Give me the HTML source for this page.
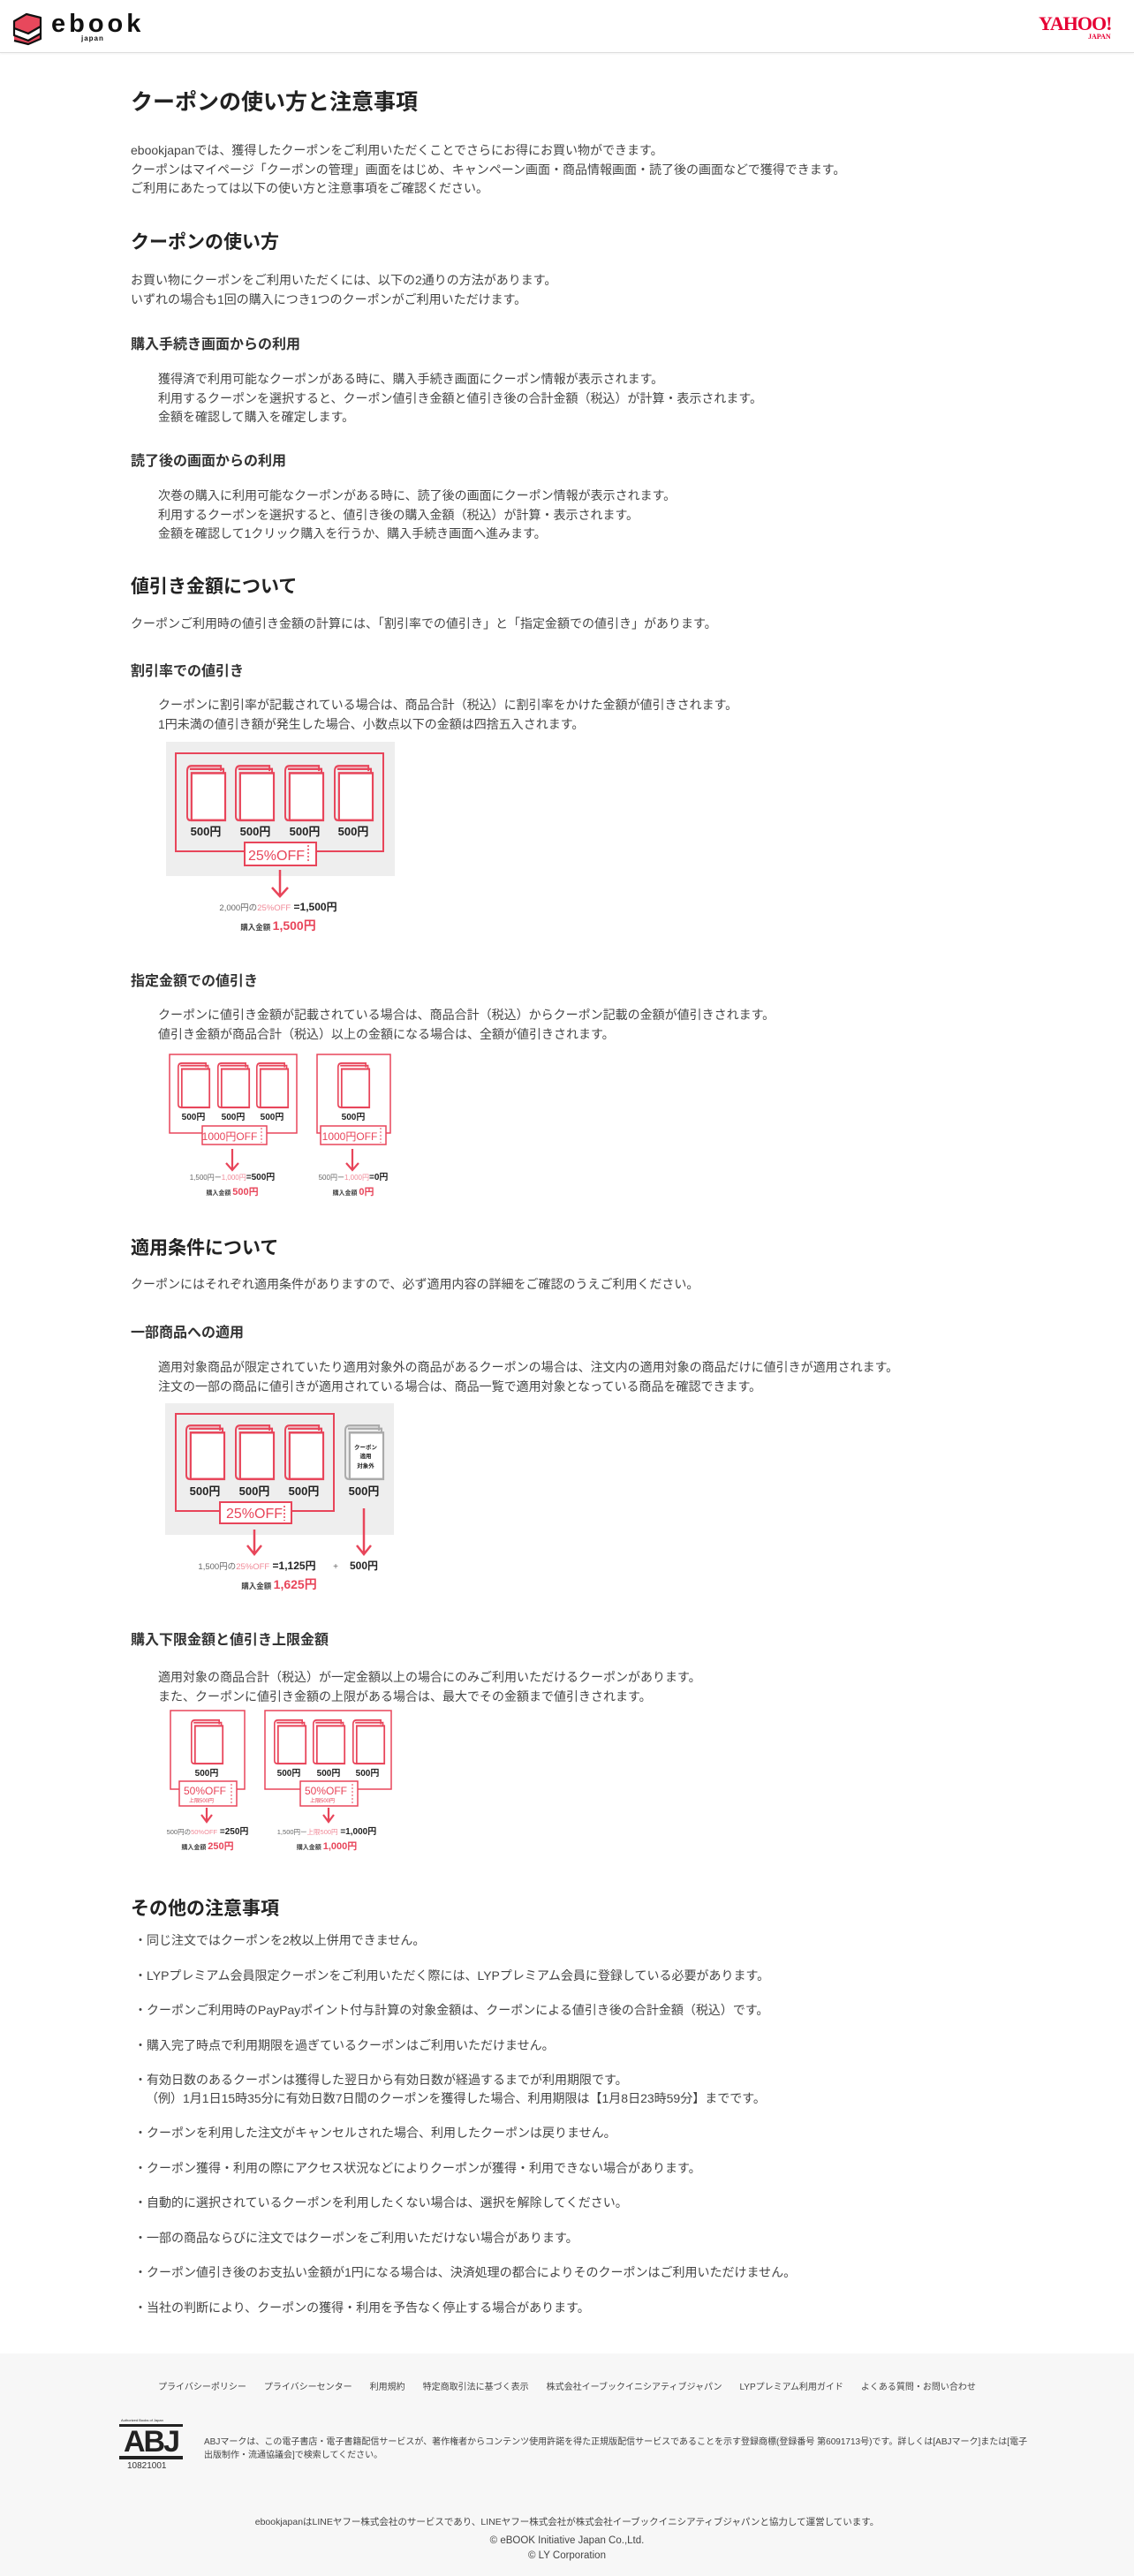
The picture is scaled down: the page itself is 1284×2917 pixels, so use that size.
<!DOCTYPE html>
<html><head><meta charset="utf-8">
<style>
*{margin:0;padding:0;box-sizing:border-box}
body{width:1284px;height:2917px;position:relative;background:#fff;font-family:"Liberation Sans","Noto Sans CJK JP",sans-serif;color:#333;overflow:hidden}
.a{position:absolute;white-space:nowrap}
.p{position:absolute;white-space:nowrap;font-size:14px;line-height:21.5px;color:#444}
.h1{font-size:25px;font-weight:bold;color:#222}
.h2{font-size:21px;font-weight:bold;color:#222}
.h3{font-size:16px;font-weight:bold;color:#333}
svg text{font-family:"Liberation Sans","Noto Sans CJK JP",sans-serif}
</style></head><body>
<!-- header -->
<div class="a" style="left:0;top:0;width:1284px;height:60px;border-bottom:1px solid #ddd;box-shadow:0 1px 2px rgba(0,0,0,.06)"></div>
<svg class="a" style="left:12px;top:10px" width="42" height="42" viewBox="0 0 42 42">
<path d="M4 14 L18 6 L34 10 L34 20 L20 28 L4 22 Z" fill="#e8485c" stroke="#111" stroke-width="2.2" stroke-linejoin="round"/>
<path d="M4 22 L20 28 L34 20 L34 28 L20 36 L4 30 Z" fill="#fff" stroke="#111" stroke-width="2.2" stroke-linejoin="round"/>
<path d="M4 30 L20 36 L34 28 L34 34 L20 40 L4 36" fill="#e8485c" stroke="#111" stroke-width="2.2" stroke-linejoin="round"/>
</svg>
<div class="a" style="left:58px;top:12px;font-size:29px;font-weight:bold;letter-spacing:4px;color:#111;line-height:30px">ebook</div>
<div class="a" style="left:92px;top:39px;font-size:8px;font-weight:bold;letter-spacing:1px;color:#111">japan</div>
<div class="a" style="left:1176px;top:15px;font-family:'Liberation Serif',serif;font-size:22px;font-weight:bold;color:#e60033;letter-spacing:-1px;line-height:24px">YAHOO!</div>
<div class="a" style="left:1232px;top:37px;font-family:'Liberation Serif',serif;font-size:8px;font-weight:bold;color:#e60033">JAPAN</div>

<div class="a h1" style="left:148px;top:96px">クーポンの使い方と注意事項</div>
<div class="p" style="left:148px;top:160px">ebookjapanでは、獲得したクーポンをご利用いただくことでさらにお得にお買い物ができます。<br>クーポンはマイページ「クーポンの管理」画面をはじめ、キャンペーン画面・商品情報画面・読了後の画面などで獲得できます。<br>ご利用にあたっては以下の使い方と注意事項をご確認ください。</div>

<div class="a h2" style="left:148px;top:258px">クーポンの使い方</div>
<div class="p" style="left:148px;top:307px">お買い物にクーポンをご利用いただくには、以下の2通りの方法があります。<br>いずれの場合も1回の購入につき1つのクーポンがご利用いただけます。</div>
<div class="a h3" style="left:148px;top:376px">購入手続き画面からの利用</div>
<div class="p" style="left:179px;top:419px">獲得済で利用可能なクーポンがある時に、購入手続き画面にクーポン情報が表示されます。<br>利用するクーポンを選択すると、クーポン値引き金額と値引き後の合計金額（税込）が計算・表示されます。<br>金額を確認して購入を確定します。</div>
<div class="a h3" style="left:148px;top:508px">読了後の画面からの利用</div>
<div class="p" style="left:179px;top:551px">次巻の購入に利用可能なクーポンがある時に、読了後の画面にクーポン情報が表示されます。<br>利用するクーポンを選択すると、値引き後の購入金額（税込）が計算・表示されます。<br>金額を確認して1クリック購入を行うか、購入手続き画面へ進みます。</div>

<div class="a h2" style="left:148px;top:648px">値引き金額について</div>
<div class="p" style="left:148px;top:696px">クーポンご利用時の値引き金額の計算には、「割引率での値引き」と「指定金額での値引き」があります。</div>
<div class="a h3" style="left:148px;top:746px">割引率での値引き</div>
<div class="p" style="left:179px;top:788px">クーポンに割引率が記載されている場合は、商品合計（税込）に割引率をかけた金額が値引きされます。<br>1円未満の値引き額が発生した場合、小数点以下の金額は四捨五入されます。</div>

<div class="a h3" style="left:148px;top:1097px">指定金額での値引き</div>
<div class="p" style="left:179px;top:1139px">クーポンに値引き金額が記載されている場合は、商品合計（税込）からクーポン記載の金額が値引きされます。<br>値引き金額が商品合計（税込）以上の金額になる場合は、全額が値引きされます。</div>

<div class="a h2" style="left:148px;top:1397px">適用条件について</div>
<div class="p" style="left:148px;top:1444px">クーポンにはそれぞれ適用条件がありますので、必ず適用内容の詳細をご確認のうえご利用ください。</div>
<div class="a h3" style="left:148px;top:1495px">一部商品への適用</div>
<div class="p" style="left:179px;top:1538px">適用対象商品が限定されていたり適用対象外の商品があるクーポンの場合は、注文内の適用対象の商品だけに値引きが適用されます。<br>注文の一部の商品に値引きが適用されている場合は、商品一覧で適用対象となっている商品を確認できます。</div>
<div class="a h3" style="left:148px;top:1843px">購入下限金額と値引き上限金額</div>
<div class="p" style="left:179px;top:1889px">適用対象の商品合計（税込）が一定金額以上の場合にのみご利用いただけるクーポンがあります。<br>また、クーポンに値引き金額の上限がある場合は、最大でその金額まで値引きされます。</div>

<div class="a h2" style="left:148px;top:2145px">その他の注意事項</div>
<div class="p" style="left:152px;top:2178px;line-height:39.6px">・同じ注文ではクーポンを2枚以上併用できません。<br>・LYPプレミアム会員限定クーポンをご利用いただく際には、LYPプレミアム会員に登録している必要があります。<br>・クーポンご利用時のPayPayポイント付与計算の対象金額は、クーポンによる値引き後の合計金額（税込）です。<br>・購入完了時点で利用期限を過ぎているクーポンはご利用いただけません。<br>・有効日数のあるクーポンは獲得した翌日から有効日数が経過するまでが利用期限です。</div>
<div class="p" style="left:165px;top:2366px">（例）1月1日15時35分に有効日数7日間のクーポンを獲得した場合、利用期限は【1月8日23時59分】までです。</div>
<div class="p" style="left:152px;top:2396px;line-height:39.6px">・クーポンを利用した注文がキャンセルされた場合、利用したクーポンは戻りません。<br>・クーポン獲得・利用の際にアクセス状況などによりクーポンが獲得・利用できない場合があります。<br>・自動的に選択されているクーポンを利用したくない場合は、選択を解除してください。<br>・一部の商品ならびに注文ではクーポンをご利用いただけない場合があります。<br>・クーポン値引き後のお支払い金額が1円になる場合は、決済処理の都合によりそのクーポンはご利用いただけません。<br>・当社の判断により、クーポンの獲得・利用を予告なく停止する場合があります。</div>

<!-- figures -->
<svg class="a" style="left:0;top:0" width="1284" height="2120" viewBox="0 0 1284 2120">
<defs>
<symbol id="bk" viewBox="0 0 46 56" overflow="visible" preserveAspectRatio="none">
<path d="M5 55 Q1 55 1 51 L1 7 Q1 2 6 2 L40 2 L40 7" fill="none" stroke="currentColor" stroke-width="2"/>
<path d="M4 5 L43 5 L43 9" fill="none" stroke="currentColor" stroke-width="2"/>
<rect x="6" y="9" width="39" height="46" fill="#fff" stroke="currentColor" stroke-width="2.2"/>
</symbol>
</defs>
<g color="#e8455a" fill="none" stroke="#e8455a">
<!-- fig1 -->
<rect x="188" y="840" width="259" height="152" fill="#eee" stroke="none"/>
<rect x="199" y="853" width="235" height="111" stroke-width="2"/>
<use href="#bk" x="211" y="865" width="45" height="65"/><use href="#bk" x="266" y="865" width="45" height="65"/><use href="#bk" x="322" y="865" width="45" height="65"/><use href="#bk" x="378" y="865" width="45" height="65"/>
<rect x="277" y="954" width="81" height="26" fill="#fff" stroke-width="2"/>
<line x1="349" y1="957" x2="349" y2="977" stroke-dasharray="2 2" stroke-width="1.5"/>
<path d="M317 985 V1014 M308 1005 L317 1015 L326 1005" stroke-width="2.5"/>
<!-- fig2 -->
<rect x="192" y="1194" width="144" height="89" stroke-width="1.5"/>
<use href="#bk" x="201" y="1202" width="37" height="53"/><use href="#bk" x="246" y="1202" width="37" height="53"/><use href="#bk" x="290" y="1202" width="37" height="53"/>
<rect x="229" y="1275" width="73" height="21" fill="#fff" stroke-width="1.5"/>
<line x1="296" y1="1277" x2="296" y2="1294" stroke-dasharray="2 2"/>
<path d="M263 1301 V1325 M256 1317 L263 1325 L270 1317" stroke-width="2.2"/>
<rect x="359" y="1194" width="83" height="89" stroke-width="1.5"/>
<use href="#bk" x="382" y="1202" width="37" height="53"/>
<rect x="363" y="1275" width="74" height="21" fill="#fff" stroke-width="1.5"/>
<line x1="431" y1="1277" x2="431" y2="1294" stroke-dasharray="2 2"/>
<path d="M399 1301 V1325 M392 1317 L399 1325 L406 1317" stroke-width="2.2"/>
<!-- fig3 -->
<rect x="187" y="1589" width="259" height="149" fill="#eee" stroke="none"/>
<rect x="199" y="1601" width="179" height="110" stroke-width="2"/>
<use href="#bk" x="210" y="1612" width="45" height="64"/><use href="#bk" x="266" y="1612" width="45" height="64"/><use href="#bk" x="322" y="1612" width="45" height="64"/>
<g color="#aaa"><use href="#bk" x="390" y="1612" width="45" height="64"/></g>
<rect x="249" y="1701" width="81" height="24" fill="#fff" stroke-width="2"/>
<line x1="322" y1="1705" x2="322" y2="1722" stroke-dasharray="2 2" stroke-width="1.5"/>
<path d="M288 1732 V1759 M280 1750 L288 1760 L296 1750" stroke-width="2.5"/>
<path d="M412 1708 V1759 M404 1750 L412 1760 L420 1750" stroke-width="2.5"/>
<!-- fig4 -->
<rect x="193" y="1937" width="84" height="89" stroke-width="1.5"/>
<use href="#bk" x="216" y="1946" width="37" height="52"/>
<rect x="203" y="2017" width="65" height="28" fill="#fff" stroke-width="1.5"/>
<line x1="262" y1="2020" x2="262" y2="2043" stroke-dasharray="2 2"/>
<path d="M234 2047 V2062 M228 2055 L234 2063 L240 2055" stroke-width="2.2"/>
<rect x="300" y="1937" width="143" height="89" stroke-width="1.5"/>
<use href="#bk" x="310" y="1946" width="37" height="52"/><use href="#bk" x="354" y="1946" width="37" height="52"/><use href="#bk" x="399" y="1946" width="37" height="52"/>
<rect x="340" y="2017" width="65" height="28" fill="#fff" stroke-width="1.5"/>
<line x1="399" y1="2020" x2="399" y2="2043" stroke-dasharray="2 2"/>
<path d="M372 2047 V2062 M366 2055 L372 2063 L378 2055" stroke-width="2.2"/>
</g>
<g font-weight="bold" fill="#222" text-anchor="middle">
<g font-size="13"><text x="233" y="946">500円</text><text x="289" y="946">500円</text><text x="345" y="946">500円</text><text x="400" y="946">500円</text></g>
<text x="313" y="974" font-size="16" font-weight="normal" fill="#e8455a">25%OFF</text>
<text x="315" y="1031" font-size="12"><tspan font-size="9.5" font-weight="normal" fill="#666">2,000円の</tspan><tspan font-size="9.5" font-weight="normal" fill="#f08a98">25%OFF</tspan> =1,500円</text>
<text x="315" y="1053"><tspan font-size="8.5" fill="#444">購入金額 </tspan><tspan font-size="14" fill="#e8455a">1,500円</tspan></text>
<g font-size="10"><text x="219" y="1268">500円</text><text x="264" y="1268">500円</text><text x="308" y="1268">500円</text><text x="400" y="1268">500円</text></g>
<text x="260" y="1291" font-size="12" font-weight="normal" fill="#e8455a">1000円OFF</text>
<text x="396" y="1291" font-size="12" font-weight="normal" fill="#e8455a">1000円OFF</text>
<text x="263" y="1336" font-size="10"><tspan font-size="8" font-weight="normal" fill="#666">1,500円ー</tspan><tspan font-size="8" font-weight="normal" fill="#f08a98">1,000円</tspan>=500円</text>
<text x="263" y="1353"><tspan font-size="7" fill="#444">購入金額 </tspan><tspan font-size="11" fill="#e8455a">500円</tspan></text>
<text x="400" y="1336" font-size="10"><tspan font-size="8" font-weight="normal" fill="#666">500円ー</tspan><tspan font-size="8" font-weight="normal" fill="#f08a98">1,000円</tspan>=0円</text>
<text x="400" y="1353"><tspan font-size="7" fill="#444">購入金額 </tspan><tspan font-size="11" fill="#e8455a">0円</tspan></text>
<g font-size="13"><text x="232" y="1693">500円</text><text x="288" y="1693">500円</text><text x="344" y="1693">500円</text><text x="412" y="1693">500円</text></g>
<text x="414" y="1641" font-size="6.5">クーポン</text><text x="414" y="1651" font-size="6.5">適用</text><text x="414" y="1662" font-size="6.5">対象外</text>
<text x="288" y="1719" font-size="16" font-weight="normal" fill="#e8455a">25%OFF</text>
<text x="291" y="1777" font-size="12"><tspan font-size="9.5" font-weight="normal" fill="#666">1,500円の</tspan><tspan font-size="9.5" font-weight="normal" fill="#f08a98">25%OFF</tspan> =1,125円</text>
<text x="380" y="1777" font-size="10" fill="#666" font-weight="normal">+</text>
<text x="412" y="1777" font-size="12">500円</text>
<text x="316" y="1799"><tspan font-size="8.5" fill="#444">購入金額 </tspan><tspan font-size="14" fill="#e8455a">1,625円</tspan></text>
<g font-size="10"><text x="234" y="2011">500円</text><text x="327" y="2011">500円</text><text x="372" y="2011">500円</text><text x="416" y="2011">500円</text></g>
<g font-weight="normal" fill="#e8455a"><text x="232" y="2032" font-size="12">50%OFF</text><text x="228" y="2041" font-size="6">上限500円</text>
<text x="369" y="2032" font-size="12">50%OFF</text><text x="365" y="2041" font-size="6">上限500円</text></g>
<text x="235" y="2077" font-size="10"><tspan font-size="7.5" font-weight="normal" fill="#666">500円の</tspan><tspan font-size="7.5" font-weight="normal" fill="#f08a98">50%OFF</tspan> =250円</text>
<text x="235" y="2094"><tspan font-size="7" fill="#444">購入金額 </tspan><tspan font-size="11" fill="#e8455a">250円</tspan></text>
<text x="370" y="2077" font-size="10"><tspan font-size="7.5" font-weight="normal" fill="#666">1,500円ー</tspan><tspan font-size="7.5" font-weight="normal" fill="#f08a98">上限500円</tspan> =1,000円</text>
<text x="370" y="2094"><tspan font-size="7" fill="#444">購入金額 </tspan><tspan font-size="11" fill="#e8455a">1,000円</tspan></text>
</g>
</svg>

<!-- footer -->
<div class="a" style="left:0;top:2665px;width:1284px;height:252px;background:#f7f7f7"></div>
<div class="a" style="left:0;top:2694px;width:1284px;text-align:center;font-size:10px;color:#444">プライバシーポリシー　　プライバシーセンター　　利用規約　　特定商取引法に基づく表示　　株式会社イーブックイニシアティブジャパン　　LYPプレミアム利用ガイド　　よくある質問・お問い合わせ</div>
<div class="a" style="left:137px;top:2738px;font-size:4px;color:#222">Authorized Books of Japan</div>
<div class="a" style="left:135px;top:2745px;width:72px;height:40px;border-top:3px solid #222;border-bottom:4px solid #222;font-size:34px;font-weight:bold;line-height:34px;text-align:center;color:#222;letter-spacing:-2px">ABJ</div>
<div class="a" style="left:144px;top:2787px;font-size:10px;color:#333">10821001</div>
<div class="a" style="left:231px;top:2758px;font-size:10px;line-height:15px;color:#444;white-space:normal;width:935px">ABJマークは、この電子書店・電子書籍配信サービスが、著作権者からコンテンツ使用許諾を得た正規版配信サービスであることを示す登録商標(登録番号 第6091713号)です。詳しくは[ABJマーク]または[電子出版制作・流通協議会]で検索してください。</div>
<div class="a" style="left:0;top:2848px;width:1284px;text-align:center;font-size:10.5px;color:#444">ebookjapanはLINEヤフー株式会社のサービスであり、LINEヤフー株式会社が株式会社イーブックイニシアティブジャパンと協力して運営しています。</div>
<div class="a" style="left:0;top:2871px;width:1284px;text-align:center;font-size:11.5px;color:#444">© eBOOK Initiative Japan Co.,Ltd.</div>
<div class="a" style="left:0;top:2888px;width:1284px;text-align:center;font-size:11.5px;color:#444">© LY Corporation</div>
</body></html>
